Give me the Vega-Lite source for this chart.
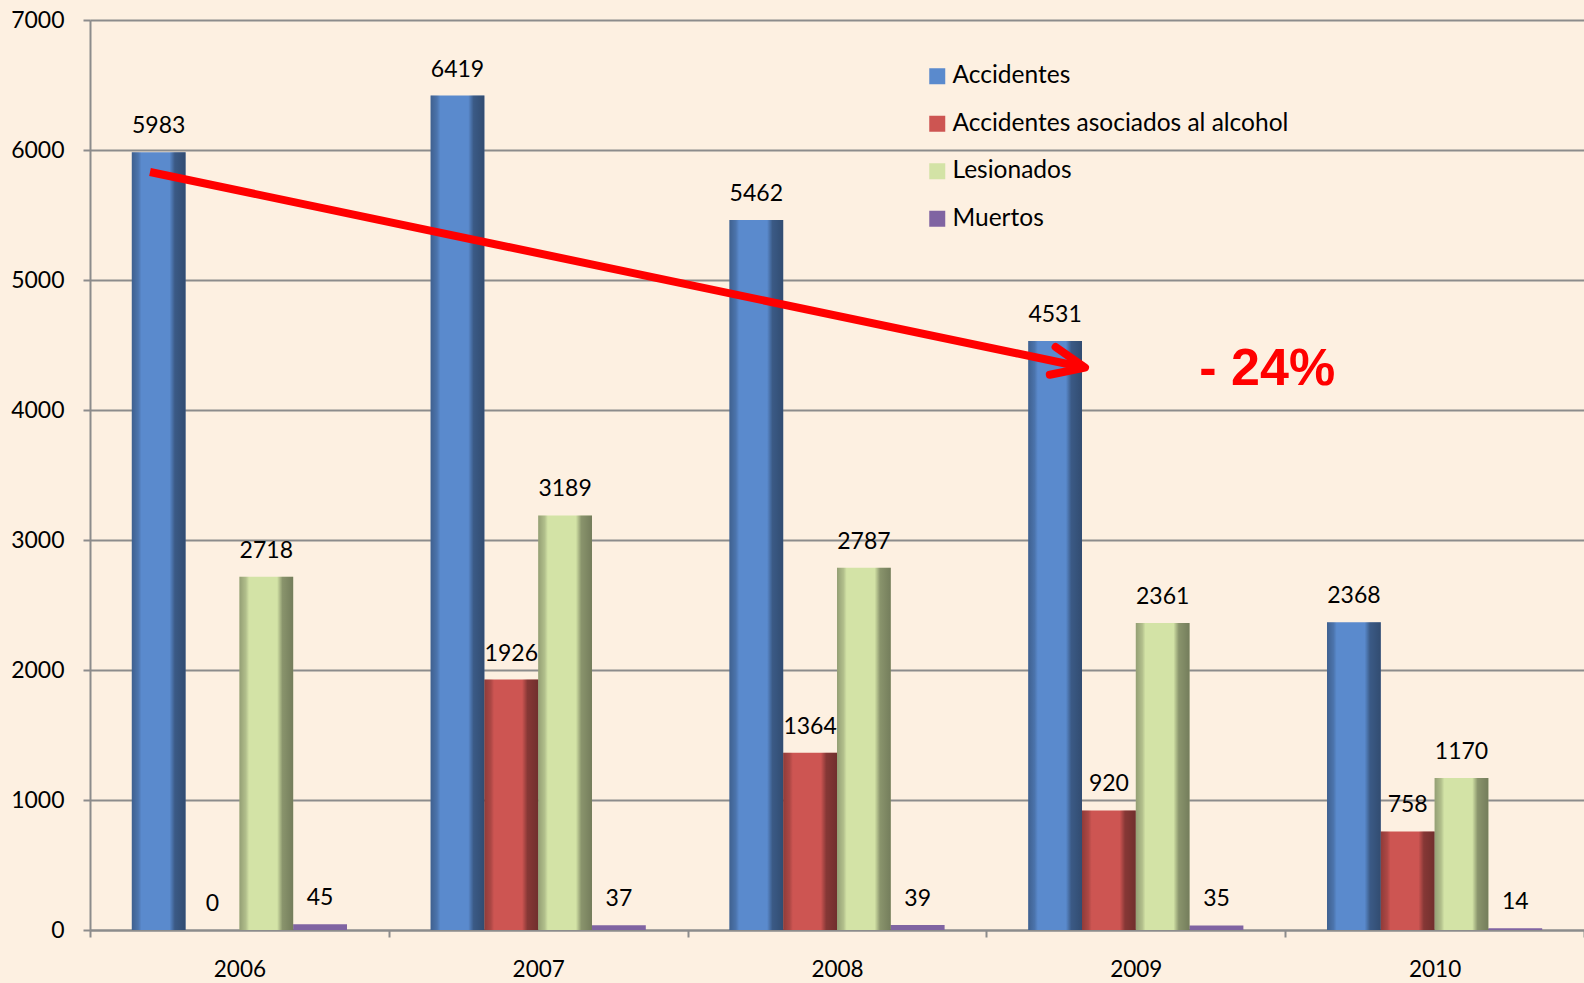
{
  "$schema": "https://vega.github.io/schema/vega-lite/v6.json",
  "width": 1494,
  "height": 910,
  "autosize": {"type": "none"},
  "padding": {"left": 90, "top": 20, "right": 0, "bottom": 53},
  "background": "#FDF0E1",
  "config": {
    "view": {"stroke": null},
    "font": "Lato",
    "legend": {
      "orient": "none",
      "legendX": 835,
      "legendY": 44,
      "title": null,
      "symbolType": "square",
      "symbolSize": 256,
      "symbolStrokeWidth": 0,
      "labelFontSize": 24.5,
      "labelFont": "Lato",
      "labelColor": "#000000",
      "labelLimit": 600,
      "rowPadding": 22.5,
      "labelOffset": 3,
      "padding": 0
    }
  },
  "datasets": {
    "bars": [
      {"year": "2006", "series": "Accidentes", "value": 5983},
      {"year": "2006", "series": "Accidentes asociados al alcohol", "value": 0},
      {"year": "2006", "series": "Lesionados", "value": 2718},
      {"year": "2006", "series": "Muertos", "value": 45},
      {"year": "2007", "series": "Accidentes", "value": 6419},
      {"year": "2007", "series": "Accidentes asociados al alcohol", "value": 1926},
      {"year": "2007", "series": "Lesionados", "value": 3189},
      {"year": "2007", "series": "Muertos", "value": 37},
      {"year": "2008", "series": "Accidentes", "value": 5462},
      {"year": "2008", "series": "Accidentes asociados al alcohol", "value": 1364},
      {"year": "2008", "series": "Lesionados", "value": 2787},
      {"year": "2008", "series": "Muertos", "value": 39},
      {"year": "2009", "series": "Accidentes", "value": 4531},
      {"year": "2009", "series": "Accidentes asociados al alcohol", "value": 920},
      {"year": "2009", "series": "Lesionados", "value": 2361},
      {"year": "2009", "series": "Muertos", "value": 35},
      {"year": "2010", "series": "Accidentes", "value": 2368},
      {"year": "2010", "series": "Accidentes asociados al alcohol", "value": 758},
      {"year": "2010", "series": "Lesionados", "value": 1170},
      {"year": "2010", "series": "Muertos", "value": 14}
    ],
    "arrow": [
      {"pos": 0.2008, "value": 5831},
      {"pos": 3.3233, "value": 4329}
    ],
    "head": [
      {"pos": 3.3300, "value": 4326}
    ],
    "note": [
      {"pos": 3.94, "value": 4192, "label": "- 24%"}
    ]
  },
  "encoding": {
    "y": {
      "field": "value",
      "type": "quantitative",
      "scale": {"domain": [0, 7000], "nice": false},
      "axis": {
        "title": null,
        "format": "d",
        "values": [0, 1000, 2000, 3000, 4000, 5000, 6000, 7000],
        "grid": true,
        "gridColor": "#8C8C8C",
        "gridWidth": 2,
        "domainColor": "#8C8C8C",
        "domainWidth": 2,
        "tickColor": "#8C8C8C",
        "tickSize": 7,
        "tickWidth": 2,
        "labelFontSize": 23,
        "labelFont": "Lato",
        "labelColor": "#000000",
        "labelPadding": 19
      }
    }
  },
  "layer": [
    {
      "data": {"name": "bars"},
      "encoding": {
        "x": {
          "field": "year",
          "type": "nominal",
          "scale": {"paddingInner": 0, "paddingOuter": 0},
          "axis": {
            "title": null,
            "tickBand": "extent",
            "labelAngle": 0,
            "grid": false,
            "domainColor": "#8C8C8C",
            "domainWidth": 2,
            "tickColor": "#8C8C8C",
            "tickSize": 7,
            "tickWidth": 2,
            "labelFontSize": 22.5,
            "labelFont": "Lato",
            "labelColor": "#000000",
            "labelPadding": 21
          }
        },
        "xOffset": {
          "field": "series",
          "type": "nominal",
          "sort": ["Accidentes", "Accidentes asociados al alcohol", "Lesionados", "Muertos"],
          "scale": {"paddingInner": 0, "paddingOuter": 0.777}
        }
      },
      "layer": [
        {
          "mark": {"type": "bar"},
          "encoding": {
            "color": {
              "field": "series",
              "type": "nominal",
              "sort": ["Accidentes", "Accidentes asociados al alcohol", "Lesionados", "Muertos"],
              "scale": {
                "domain": ["Accidentes", "Accidentes asociados al alcohol", "Lesionados", "Muertos"],
                "range": ["#5A8ACD", "#CD5552", "#D3E3A6", "#8064A2"]
              }
            }
          }
        },
        {
          "transform": [{"filter": "datum.series !== 'Muertos'"}],
          "mark": {
            "type": "bar",
            "fill": {
              "gradient": "linear",
              "x1": 0, "y1": 0, "x2": 1, "y2": 0,
              "stops": [
                {"offset": 0, "color": "rgba(0,0,0,0.30)"},
                {"offset": 0.12, "color": "rgba(0,0,0,0.16)"},
                {"offset": 0.18, "color": "rgba(0,0,0,0)"},
                {"offset": 0.70, "color": "rgba(0,0,0,0)"},
                {"offset": 0.80, "color": "rgba(0,0,0,0.35)"},
                {"offset": 1, "color": "rgba(0,0,0,0.45)"}
              ]
            }
          }
        },
        {
          "mark": {"type": "text", "fontSize": 23, "font": "Lato", "color": "#000000", "baseline": "alphabetic", "dy": -19},
          "encoding": {"text": {"field": "value", "type": "quantitative"}}
        }
      ]
    },
    {
      "data": {"name": "arrow"},
      "mark": {"type": "line", "color": "#FF0000", "strokeWidth": 8, "strokeCap": "butt"},
      "encoding": {
        "x": {"field": "pos", "type": "quantitative", "scale": {"domain": [0, 5], "nice": false, "zero": false}, "axis": null},
        "order": {"field": "pos", "type": "quantitative"}
      }
    },
    {
      "data": {"name": "head"},
      "mark": {
        "type": "point",
        "shape": "M -1 -0.43 L 0 0 L -1 0.43",
        "filled": false,
        "stroke": "#FF0000",
        "strokeWidth": 8,
        "strokeJoin": "round",
        "strokeCap": "round",
        "opacity": 1,
        "size": 4356,
        "angle": 11.8
      },
      "encoding": {
        "x": {"field": "pos", "type": "quantitative", "scale": {"domain": [0, 5], "nice": false, "zero": false}, "axis": null}
      }
    },
    {
      "data": {"name": "note"},
      "mark": {"type": "text", "font": "Liberation Sans", "fontWeight": "bold", "fontSize": 52, "color": "#FF0000", "align": "center", "baseline": "alphabetic"},
      "encoding": {
        "x": {"field": "pos", "type": "quantitative", "scale": {"domain": [0, 5], "nice": false, "zero": false}, "axis": null},
        "text": {"field": "label", "type": "nominal"}
      }
    }
  ],
  "resolve": {"scale": {"x": "independent"}}
}
